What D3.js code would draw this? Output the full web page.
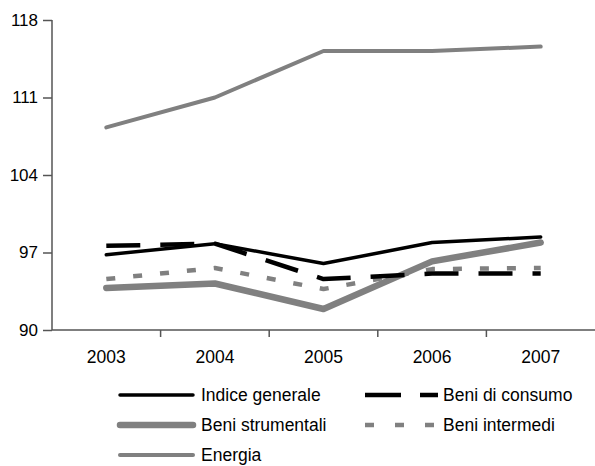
<!DOCTYPE html>
<html><head><meta charset="utf-8">
<script src="https://cdn.jsdelivr.net/npm/d3@7"></script>
<style>body{margin:0;background:#fff}svg{display:block;font-family:"Liberation Sans",Arial,sans-serif}</style>
</head><body><svg id="c" width="595" height="466"></svg>
<script>
const years = ["2003","2004","2005","2006","2007"];
const yTicks = [90, 97, 104, 111, 118];
const indiceGenerale = [96.8, 97.8, 96.0, 97.9, 98.4];
const beniConsumo = [97.6, 97.8, 94.6, 95.1, 95.1];
const beniStrumentali = [93.8, 94.2, 91.9, 96.2, 97.9];
const beniIntermedi = [94.6, 95.6, 93.7, 95.5, 95.6];
const energia = [108.3, 111.0, 115.2, 115.2, 115.6];

(function(){
const series = [
  {name:"Indice generale", values:indiceGenerale, color:"#000", w:3.5, dash:null},
  {name:"Beni di consumo", values:beniConsumo, color:"#000", w:4.5, dash:"34,20"},
  {name:"Beni strumentali", values:beniStrumentali, color:"#808080", w:6.5, dash:null},
  {name:"Beni intermedi", values:beniIntermedi, color:"#808080", w:4.5, dash:"9,18"},
  {name:"Energia", values:energia, color:"#808080", w:4, dash:null}
];
const drawOrder = [4,3,2,1,0];
const FONT = "Liberation Sans, Arial, sans-serif";

const svg = d3.select("#c");
const mL = 52, mR = 595, mT = 20, mB = 330;
const x = d3.scaleBand().domain(years).range([mL, mR]);
const y = d3.scaleLinear().domain([90, 118]).range([mB, mT]);

const gy = svg.append("g").attr("transform",`translate(${mL},0)`)
  .call(d3.axisLeft(y).tickValues(yTicks).tickSize(9).tickPadding(5).tickFormat(d3.format("d")));
gy.select(".domain").attr("stroke","#555").attr("stroke-width",1.5).attr("d",`M0,${mT}V${mB}`);
gy.selectAll(".tick line").attr("stroke","#555").attr("stroke-width",1.5);
gy.selectAll("text").attr("font-size",17).attr("fill","#000").attr("font-family",FONT);

const gx = svg.append("g").attr("transform",`translate(0,${mB})`)
  .call(d3.axisBottom(x).tickSize(0).tickPadding(0));
gx.select(".domain").attr("stroke","#555").attr("stroke-width",1.5).attr("d",`M${mL},0H${mR}`);
gx.selectAll("text").attr("font-size",17.5).attr("fill","#000").attr("font-family",FONT)
  .attr("dy",null).attr("y",33);
const bnds = years.slice(1).map(d => x(d));
svg.append("g").selectAll("line").data(bnds).join("line")
  .attr("x1",d=>d).attr("x2",d=>d).attr("y1",mB).attr("y2",mB+7)
  .attr("stroke","#555").attr("stroke-width",1.5);

const line = d3.line().x((d,i)=>x(years[i])+x.bandwidth()/2).y(d=>y(d));
drawOrder.forEach(k=>{
  const s = series[k];
  svg.append("path").attr("d", line(s.values)).attr("fill","none")
    .attr("stroke", s.color).attr("stroke-width", s.w)
    .attr("stroke-linecap", s.dash? "butt":"round").attr("stroke-linejoin","round")
    .attr("stroke-dasharray", s.dash);
});

const legendPos = [[120,395],[365,395],[120,425],[365,425],[120,455]];
series.forEach((s,i)=>{
  const [lx,ly] = legendPos[i];
  const g = svg.append("g");
  g.append("line").attr("x1",lx).attr("x2",lx+73).attr("y1",ly).attr("y2",ly)
    .attr("stroke",s.color).attr("stroke-width",s.w)
    .attr("stroke-linecap", s.dash? "butt":"round")
    .attr("stroke-dasharray", s.dash ? (i===1 ? "36,19" : "9,21") : null);
  g.append("text").attr("x",lx+(s.dash?78:81)).attr("y",ly+6).attr("font-size",17.5)
    .attr("font-family",FONT).text(s.name);
});
})();
</script></body></html>
